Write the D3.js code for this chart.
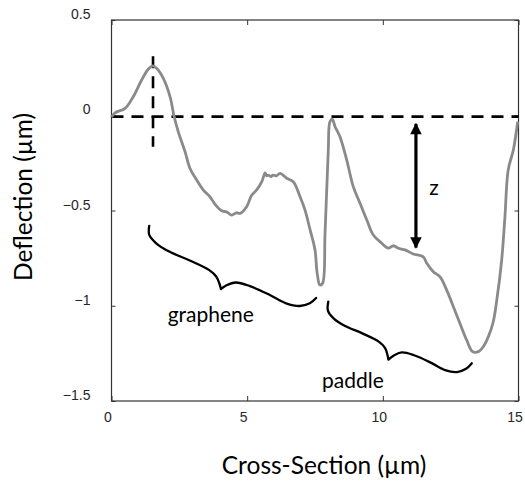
<!DOCTYPE html>
<html><head><meta charset="utf-8">
<script src="https://cdn.jsdelivr.net/npm/d3@7"></script>
<style>html,body{margin:0;padding:0;background:#fff;}</style>
</head><body>
<svg id="chart" width="525" height="483"></svg>
<script>
// ---- data ----
const xTicks = [0, 5, 10, 15];
const yTicks = [0.5, 0, -0.5, -1, -1.5];
const xLabel = "Cross-Section (µm)";
const yLabel = "Deflection (µm)";
const profileX = [0.00,0.13,0.50,0.80,1.11,1.36,1.52,1.67,1.91,2.16,2.31,2.46,2.71,2.89,3.14,3.38,3.63,3.81,4.06,4.25,4.43,4.60,4.74,4.98,5.17,5.35,5.54,5.66,5.72,5.78,5.87,5.96,6.08,6.21,6.46,6.70,6.95,7.13,7.32,7.50,7.58,7.68,7.78,7.87,7.99,8.05,8.14,8.24,8.42,8.67,8.91,9.16,9.41,9.65,9.96,10.20,10.39,10.57,10.82,11.12,11.49,11.62,11.86,12.11,12.35,12.60,12.84,13.09,13.31,13.52,13.70,13.89,14.07,14.20,14.38,14.50,14.62,14.81,14.97];
const profileY = [-0.01,0.013,0.036,0.097,0.185,0.243,0.259,0.246,0.194,0.097,-0.008,-0.086,-0.191,-0.278,-0.340,-0.392,-0.428,-0.466,-0.501,-0.508,-0.524,-0.512,-0.515,-0.480,-0.419,-0.392,-0.349,-0.302,-0.318,-0.314,-0.322,-0.314,-0.318,-0.305,-0.331,-0.349,-0.428,-0.497,-0.602,-0.707,-0.830,-0.891,-0.882,-0.620,-0.182,-0.034,-0.021,-0.060,-0.113,-0.235,-0.375,-0.462,-0.550,-0.629,-0.672,-0.698,-0.685,-0.698,-0.707,-0.728,-0.743,-0.777,-0.821,-0.848,-0.917,-1.005,-1.092,-1.180,-1.241,-1.241,-1.215,-1.162,-1.084,-0.970,-0.760,-0.533,-0.287,-0.182,-0.034];
const baseLevel = -0.007;
const peakX = 1.53, peakYRange = [0.31, -0.165];
const arrowX = 11.22, arrowY = [-0.04, -0.70];
const braceNames = ["graphene", "paddle"];
const braceStart = [[1.39, -0.581], [7.99, -0.979]];
const braceEnd = [[7.54, -0.959], [13.28, -1.302]];
const braceLabelPos = [[3.66, -1.086], [8.90, -1.43]];
const zLabel = "z", zPos = [11.89, -0.42];

// ---- layout ----
const svg = d3.select("#chart");
const L = 111.5, R = 518.5, T = 20, B = 401;
const x = d3.scaleLinear().domain([0, 15]).range([L, R]);
const y = d3.scaleLinear().domain([-1.5, 0.5]).range([B, T]);
const frameColor = "#333";

// frame
svg.append("rect").attr("x", L).attr("y", T).attr("width", R - L).attr("height", B - T)
  .attr("fill", "none").attr("stroke", frameColor).attr("stroke-width", 1.2);

// axes (inward ticks)
const axB = svg.append("g").attr("transform", `translate(0,${B})`)
  .call(d3.axisBottom(x).tickValues(xTicks).tickSize(-5).tickPadding(11).tickFormat(d3.format("d")));
const axT = svg.append("g").attr("transform", `translate(0,${T})`)
  .call(d3.axisTop(x).tickValues(xTicks).tickSize(-5).tickFormat(""));
const axL = svg.append("g").attr("transform", `translate(${L},0)`)
  .call(d3.axisLeft(y).tickValues(yTicks).tickSize(-4).tickPadding(21).tickFormat(d => d3.format("")(d)));
const axR = svg.append("g").attr("transform", `translate(${R},0)`)
  .call(d3.axisRight(y).tickValues(yTicks).tickSize(-4).tickFormat(""));
[axB, axT, axL, axR].forEach(g => {
  g.select(".domain").remove();
  g.selectAll(".tick line").attr("stroke", frameColor);
  g.selectAll("text").attr("font-family", "Liberation Sans, Arial, sans-serif")
    .attr("font-size", 14).attr("fill", "#262626");
});
axB.selectAll(".tick text").attr("dx", -4);
axL.selectAll(".tick text").attr("dy", "-0.1em");

// axis titles
const titleFont = "Lato, 'Open Sans', sans-serif";
svg.append("text").attr("x", 324).attr("y", 474).attr("text-anchor", "middle")
  .attr("font-family", titleFont).attr("font-size", 24.5).attr("fill", "#000").text(xLabel);
svg.append("text").attr("transform", "translate(32,197) rotate(-90)").attr("text-anchor", "middle")
  .attr("font-family", titleFont).attr("font-size", 24.5).attr("fill", "#000").text(yLabel);

// dashed reference lines
svg.append("line").attr("x1", x(0)).attr("x2", x(15)).attr("y1", y(baseLevel)).attr("y2", y(baseLevel))
  .attr("stroke", "#000").attr("stroke-width", 2.6).attr("stroke-dasharray", "12,8");
svg.append("line").attr("x1", x(peakX)).attr("x2", x(peakX)).attr("y1", y(peakYRange[0])).attr("y2", y(peakYRange[1]))
  .attr("stroke", "#000").attr("stroke-width", 2.6).attr("stroke-dasharray", "12,8");

// profile
const pts = profileX.map((v, i) => [v, profileY[i]]);
svg.append("path").datum(pts)
  .attr("d", d3.line().x(d => x(d[0])).y(d => y(d[1])).curve(d3.curveCatmullRom.alpha(0.5)))
  .attr("fill", "none").attr("stroke", "#8a8a8a").attr("stroke-width", 2.8).attr("stroke-linejoin", "round");

// double arrow
const defs = svg.append("defs");
defs.append("marker").attr("id", "ah").attr("viewBox", "0 0 10 10").attr("refX", 9).attr("refY", 5)
  .attr("markerWidth", 4).attr("markerHeight", 3.6).attr("orient", "auto-start-reverse")
  .attr("markerUnits", "strokeWidth")
  .append("path").attr("d", "M0,0 L10,5 L0,10 Z").attr("fill", "#000");
svg.append("line").attr("x1", x(arrowX)).attr("x2", x(arrowX)).attr("y1", y(arrowY[0]) + 1).attr("y2", y(arrowY[1]) - 1)
  .attr("stroke", "#000").attr("stroke-width", 3.2)
  .attr("marker-start", "url(#ah)").attr("marker-end", "url(#ah)");

// braces: shape in local frame (fraction along chord, depth as fraction of full depth)
const braceLeft = [[0,0],[0.02,0.28],[0.075,0.45],[0.16,0.53],[0.28,0.53],[0.40,0.57],[0.45,0.68],[0.48,0.85],[0.5,1]];
const braceRight = [[0.5,1],[0.52,0.81],[0.56,0.60],[0.64,0.52],[0.76,0.53],[0.86,0.57],[0.935,0.47],[0.98,0.25],[1,0]];
function braceD(sx, sy, ex, ey, depth) {
  const dx = ex - sx, dy = ey - sy, len = Math.hypot(dx, dy);
  const ux = dx / len, uy = dy / len, nx = -uy, ny = ux;
  const toPx = p => [sx + ux * p[0] * len + nx * p[1] * depth, sy + uy * p[0] * len + ny * p[1] * depth];
  const ln = d3.line().curve(d3.curveCatmullRom.alpha(0.5));
  return ln(braceLeft.map(toPx)) + ln(braceRight.map(toPx));
}
braceNames.forEach((name, i) => {
  const s = braceStart[i], e = braceEnd[i];
  svg.append("path")
    .attr("d", braceD(x(s[0]), y(s[1]), x(e[0]), y(e[1]), 29.5))
    .attr("fill", "none").attr("stroke", "#000").attr("stroke-width", 2.3)
    .attr("stroke-linecap", "round").attr("stroke-linejoin", "round");
  svg.append("text").attr("x", x(braceLabelPos[i][0])).attr("y", y(braceLabelPos[i][1]))
    .attr("text-anchor", "middle").attr("font-family", titleFont).attr("font-size", 21).attr("fill", "#000").text(name);
});
svg.append("text").attr("x", x(zPos[0])).attr("y", y(zPos[1])).attr("text-anchor", "middle")
  .attr("font-family", titleFont).attr("font-size", 21).attr("fill", "#000").text(zLabel);
</script>
</body></html>
